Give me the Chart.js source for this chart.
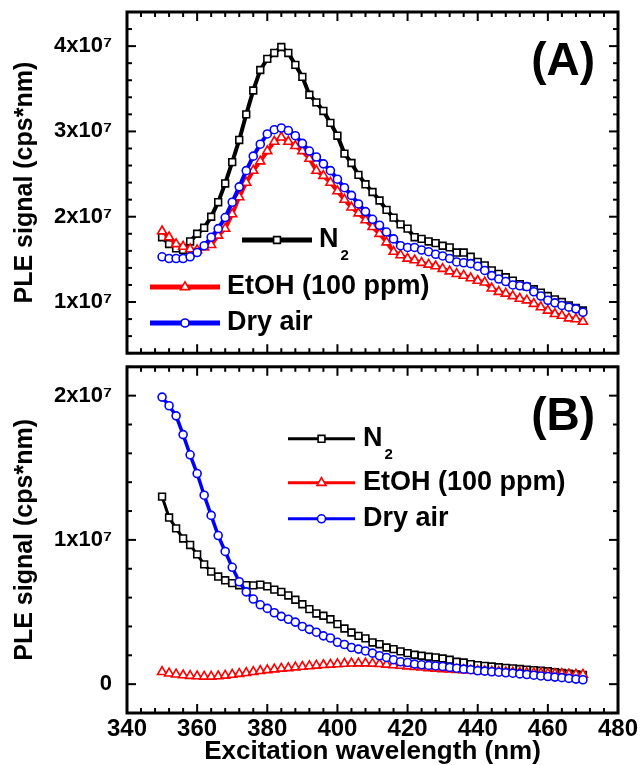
<!DOCTYPE html>
<html>
<head>
<meta charset="utf-8">
<title>PLE spectra</title>
<script src="https://cdn.jsdelivr.net/npm/chart.js@4.4.1/dist/chart.umd.min.js"></script>
<style>
    html, body { margin: 0; padding: 0; background: #fff; }
    #wrap { position: relative; width: 640px; height: 765px; overflow: hidden; }
    canvas { position: absolute; left: 0; }
    #panelA { top: 0; }
    #panelB { top: 360px; }
</style>
</head>
<body>
<div id="wrap">
    <canvas id="panelA" width="640" height="360"></canvas>
    <canvas id="panelB" width="640" height="405"></canvas>
</div>
<script>
const FONT = "'Liberation Sans', Arial, 'DejaVu Sans', sans-serif";

/* ========== Data ========== */

const wavelengths = [
    350, 352, 354, 356, 358, 360, 362, 364, 366, 368,
    370, 372, 374, 376, 378, 380, 382, 384, 386, 388,
    390, 392, 394, 396, 398, 400, 402, 404, 406, 408,
    410, 412, 414, 416, 418, 420, 422, 424, 426, 428,
    430, 432, 434, 436, 438, 440, 442, 444, 446, 448,
    450, 452, 454, 456, 458, 460, 462, 464, 466, 468,
    470,
];

// PLE signal, in units of 1e7 cps*nm
const n2A = [
    1.76, 1.68, 1.63, 1.61, 1.71, 1.80, 1.87, 2.00, 2.17, 2.39,
    2.64, 2.90, 3.20, 3.48, 3.72, 3.85, 3.92, 3.99, 3.92, 3.78,
    3.64, 3.43, 3.34, 3.24, 3.10, 2.95, 2.74, 2.63, 2.49, 2.38,
    2.29, 2.19, 2.08, 1.99, 1.91, 1.86, 1.76, 1.74, 1.71, 1.69,
    1.66, 1.64, 1.58, 1.58, 1.53, 1.47, 1.43, 1.37, 1.33, 1.29,
    1.25, 1.21, 1.18, 1.15, 1.11, 1.07, 1.03, 1.00, 0.96, 0.93,
    0.90,
];
const etohA = [
    1.83, 1.76, 1.68, 1.65, 1.62, 1.61, 1.64, 1.67, 1.78, 1.86,
    2.03, 2.23, 2.40, 2.54, 2.65, 2.77, 2.88, 2.93, 2.88, 2.83,
    2.77, 2.68, 2.54, 2.48, 2.40, 2.30, 2.20, 2.11, 2.04, 1.96,
    1.88, 1.80, 1.70, 1.59, 1.55, 1.51, 1.49, 1.46, 1.44, 1.42,
    1.39, 1.36, 1.33, 1.31, 1.28, 1.25, 1.23, 1.16, 1.12, 1.10,
    1.07, 1.04, 1.02, 0.98, 0.94, 0.90, 0.86, 0.84, 0.81, 0.80,
    0.77,
];
const dryAirA = [
    1.53, 1.51, 1.51, 1.51, 1.53, 1.58, 1.66, 1.76, 1.86, 1.99,
    2.17, 2.35, 2.54, 2.71, 2.85, 2.97, 3.02, 3.04, 3.01, 2.95,
    2.86, 2.77, 2.70, 2.62, 2.54, 2.44, 2.34, 2.25, 2.15, 2.06,
    1.97, 1.90, 1.82, 1.74, 1.66, 1.64, 1.64, 1.61, 1.59, 1.56,
    1.54, 1.51, 1.47, 1.46, 1.45, 1.42, 1.37, 1.31, 1.27, 1.24,
    1.20, 1.19, 1.18, 1.12, 1.07, 1.02, 0.99, 0.96, 0.94, 0.92,
    0.88,
];

const n2B = [
    1.30, 1.155, 1.08, 1.01, 0.965, 0.90, 0.83, 0.78, 0.746, 0.72,
    0.70, 0.686, 0.686, 0.685, 0.69, 0.678, 0.655, 0.64, 0.615, 0.585,
    0.554, 0.52, 0.49, 0.474, 0.45, 0.416, 0.386, 0.358, 0.335, 0.317,
    0.289, 0.277, 0.254, 0.243, 0.227, 0.215, 0.204, 0.197, 0.19, 0.185,
    0.178, 0.169, 0.155, 0.15, 0.139, 0.132, 0.127, 0.122, 0.117, 0.113,
    0.109, 0.105, 0.101, 0.097, 0.093, 0.089, 0.083, 0.077, 0.072, 0.067,
    0.063,
];
const etohB = [
    0.085, 0.075, 0.068, 0.062, 0.058, 0.055, 0.053, 0.053, 0.055, 0.060,
    0.066, 0.072, 0.078, 0.085, 0.092, 0.098, 0.103, 0.108, 0.112, 0.117,
    0.121, 0.125, 0.129, 0.133, 0.136, 0.139, 0.142, 0.144, 0.145, 0.145,
    0.143, 0.140, 0.136, 0.132, 0.128, 0.124, 0.120, 0.116, 0.112, 0.108,
    0.105, 0.102, 0.099, 0.097, 0.095, 0.092, 0.090, 0.088, 0.086, 0.084,
    0.082, 0.080, 0.079, 0.077, 0.076, 0.074, 0.072, 0.071, 0.069, 0.067,
    0.066,
];
const dryAirB = [
    1.99, 1.93, 1.86, 1.73, 1.59, 1.46, 1.31, 1.17, 1.03, 0.92,
    0.81, 0.71, 0.64, 0.59, 0.55, 0.525, 0.495, 0.47, 0.45, 0.43,
    0.40, 0.38, 0.36, 0.335, 0.32, 0.29, 0.275, 0.254, 0.243, 0.23,
    0.215, 0.197, 0.185, 0.169, 0.155, 0.15, 0.139, 0.134, 0.13, 0.126,
    0.122, 0.116, 0.11, 0.104, 0.10, 0.093, 0.09, 0.086, 0.083, 0.079,
    0.076, 0.071, 0.067, 0.062, 0.057, 0.053, 0.049, 0.045, 0.04, 0.035,
    0.03,
];

const xTicks = [340, 360, 380, 400, 420, 440, 460, 480];
const yTicksA = [1, 2, 3, 4];
const yTicksB = [0, 1, 2];

const colors = { n2: '#000000', etoh: '#ff0000', dryAir: '#0000ff' };

const marker = {
    n2: { style: 'rect', radius: 4.8 },
    etoh: { style: 'triangle', radius: 5.2 },
    dryAir: { style: 'circle', radius: 4 },
};

/* ========== Helpers ========== */

function points(values) {
    return wavelengths.map((w, i) => ({ x: w, y: values[i] }));
}

function series(label, values, color, m, width, order) {
    return {
        label,
        data: points(values),
        borderColor: color,
        backgroundColor: '#fff',
        borderWidth: width,
        tension: 0,
        pointStyle: m.style,
        pointRadius: m.radius,
        pointBorderColor: color,
        pointBackgroundColor: '#fff',
        pointBorderWidth: 1.6,
        order,
    };
}

function sciLabel(v) {
    return v === 0 ? '0' : v + 'x10\u2077';
}

// boxed frame with inward ticks on all four sides
const framePlugin = {
    id: 'frame',
    afterDatasetsDraw(chart) {
        const { ctx, chartArea: a, scales: { x, y } } = chart;
        const tick = (px, py, dx, dy) => {
            ctx.beginPath();
            ctx.moveTo(px, py);
            ctx.lineTo(px + dx, py + dy);
            ctx.stroke();
        };
        ctx.save();
        ctx.strokeStyle = '#000';
        ctx.lineWidth = 2;
        for (let v = x.min; v <= x.max; v += 4) {
            const px = x.getPixelForValue(v);
            const len = (v - x.min) % 20 === 0 ? 9 : 5;
            tick(px, a.bottom, 0, -len);
            tick(px, a.top, 0, len);
        }
        for (let k = 0; y.min + k * 0.2 <= y.max + 1e-9; k++) {
            const v = y.min + k * 0.2;
            const py = y.getPixelForValue(v);
            const len = Math.abs(v - Math.round(v)) < 1e-6 ? 9 : 5;
            tick(a.left, py, len, 0);
            tick(a.right, py, -len, 0);
        }
        ctx.lineWidth = 3;
        ctx.strokeRect(a.left, a.top, a.right - a.left, a.bottom - a.top);
        ctx.restore();
    },
};

// hand-placed legend and panel tag
const legendPlugin = {
    id: 'panelLegend',
    afterDraw(chart, args, opts) {
        const { ctx, chartArea: a } = chart;
        ctx.save();
        opts.entries.forEach(e => {
            const y = a.top + e.dy;
            const x1 = a.left + e.x1;
            const x2 = a.left + e.x2;
            ctx.strokeStyle = e.color;
            ctx.lineWidth = opts.lineWidth;
            ctx.beginPath();
            ctx.moveTo(x1, y);
            ctx.lineTo(x2, y);
            ctx.stroke();

            ctx.fillStyle = '#fff';
            ctx.lineWidth = 1.6;
            Chart.helpers.drawPoint(ctx, { pointStyle: e.m.style, radius: e.m.radius, borderWidth: 1.6, rotation: 0 }, (x1 + x2) / 2, y);

            ctx.fillStyle = '#000';
            ctx.textAlign = 'left';
            ctx.textBaseline = 'middle';
            ctx.font = `bold ${opts.fontSize}px ${FONT}`;
            const tx = x2 + opts.gap;
            ctx.fillText(e.text, tx, y);
            if (e.sub) {
                const w = ctx.measureText(e.text).width;
                ctx.font = `bold ${opts.subSize}px ${FONT}`;
                ctx.fillText(e.sub, tx + w + 2, y + opts.subDrop);
            }
        });
        ctx.fillStyle = '#000';
        ctx.font = `bold ${opts.tagSize}px ${FONT}`;
        ctx.textAlign = 'right';
        ctx.textBaseline = 'middle';
        ctx.fillText(opts.tag, a.right - opts.tagInset, a.top + opts.tagDy);
        ctx.restore();
    },
};

const yTickFont = { family: FONT, size: 22, weight: 'bold' };
const titleFont = { family: FONT, size: 25, weight: 'bold' };

function yScale(min, max, ticks) {
    return {
        min, max,
        afterBuildTicks: s => { s.ticks = ticks.map(v => ({ value: v })); },
        afterFit: s => { s.width = 127; s.paddingTop = 0; s.paddingBottom = 0; },
        grid: { display: false, drawTicks: false },
        border: { display: false },
        ticks: { color: '#000', font: yTickFont, padding: 15, callback: sciLabel },
        title: {
            display: true,
            text: 'PLE signal (cps*nm)',
            color: '#000',
            font: titleFont,
            padding: { top: 10, bottom: 0 },
        },
    };
}

const baseOptions = {
    responsive: false,
    animation: false,
    devicePixelRatio: 1,
    events: [],
};

/* ========== Panel A ========== */

new Chart(document.getElementById('panelA'), {
    type: 'line',
    data: {
        datasets: [
            series('N2', n2A, colors.n2, marker.n2, 4, 3),
            series('EtOH (100 ppm)', etohA, colors.etoh, marker.etoh, 4, 2),
            series('Dry air', dryAirA, colors.dryAir, marker.dryAir, 4, 1),
        ],
    },
    options: {
        ...baseOptions,
        layout: { padding: { top: 12, right: 22, bottom: 5, left: 0 } },
        plugins: {
            legend: { display: false },
            tooltip: { enabled: false },
            panelLegend: {
                lineWidth: 5, fontSize: 27, subSize: 15, subDrop: 16, gap: 7,
                tag: '(A)', tagSize: 46, tagInset: 23, tagDy: 50,
                entries: [
                    { text: 'N', sub: '2', color: colors.n2, m: marker.n2, x1: 115, x2: 185, dy: 228 },
                    { text: 'EtOH (100 ppm)', color: colors.etoh, m: marker.etoh, x1: 23, x2: 93, dy: 275 },
                    { text: 'Dry air', color: colors.dryAir, m: marker.dryAir, x1: 23, x2: 93, dy: 311 },
                ],
            },
        },
        scales: {
            x: { type: 'linear', min: 340, max: 480, display: false },
            y: yScale(0.4, 4.4, yTicksA),
        },
    },
    plugins: [framePlugin, legendPlugin],
});

/* ========== Panel B ========== */

new Chart(document.getElementById('panelB'), {
    type: 'line',
    data: {
        datasets: [
            series('N2', n2B, colors.n2, marker.n2, 3, 3),
            series('EtOH (100 ppm)', etohB, colors.etoh, marker.etoh, 2, 2),
            series('Dry air', dryAirB, colors.dryAir, marker.dryAir, 3.5, 1),
        ],
    },
    options: {
        ...baseOptions,
        layout: { padding: { top: 4, right: 22, bottom: 0, left: 0 } },
        plugins: {
            legend: { display: false },
            tooltip: { enabled: false },
            panelLegend: {
                lineWidth: 3, fontSize: 27, subSize: 15, subDrop: 16, gap: 8,
                tag: '(B)', tagSize: 46, tagInset: 23, tagDy: 51,
                entries: [
                    { text: 'N', sub: '2', color: colors.n2, m: marker.n2, x1: 161, x2: 228, dy: 72 },
                    { text: 'EtOH (100 ppm)', color: colors.etoh, m: marker.etoh, x1: 161, x2: 228, dy: 116 },
                    { text: 'Dry air', color: colors.dryAir, m: marker.dryAir, x1: 161, x2: 228, dy: 152 },
                ],
            },
        },
        scales: {
            x: {
                type: 'linear',
                min: 340,
                max: 480,
                afterBuildTicks: s => { s.ticks = xTicks.map(v => ({ value: v })); },
                afterFit: s => { s.height = 52; s.paddingLeft = 0; s.paddingRight = 0; },
                grid: { display: false, drawTicks: false },
                border: { display: false },
                ticks: { color: '#000', font: { family: FONT, size: 24, weight: 'bold' }, padding: 2, maxRotation: 0 },
                title: {
                    display: true,
                    text: 'Excitation wavelength (nm)',
                    color: '#000',
                    font: { family: FONT, size: 26, weight: 'bold', lineHeight: 1 },
                    padding: { top: 0, bottom: 0 },
                },
            },
            y: yScale(-0.2, 2.2, yTicksB),
        },
    },
    plugins: [framePlugin, legendPlugin],
});
</script>
</body>
</html>
